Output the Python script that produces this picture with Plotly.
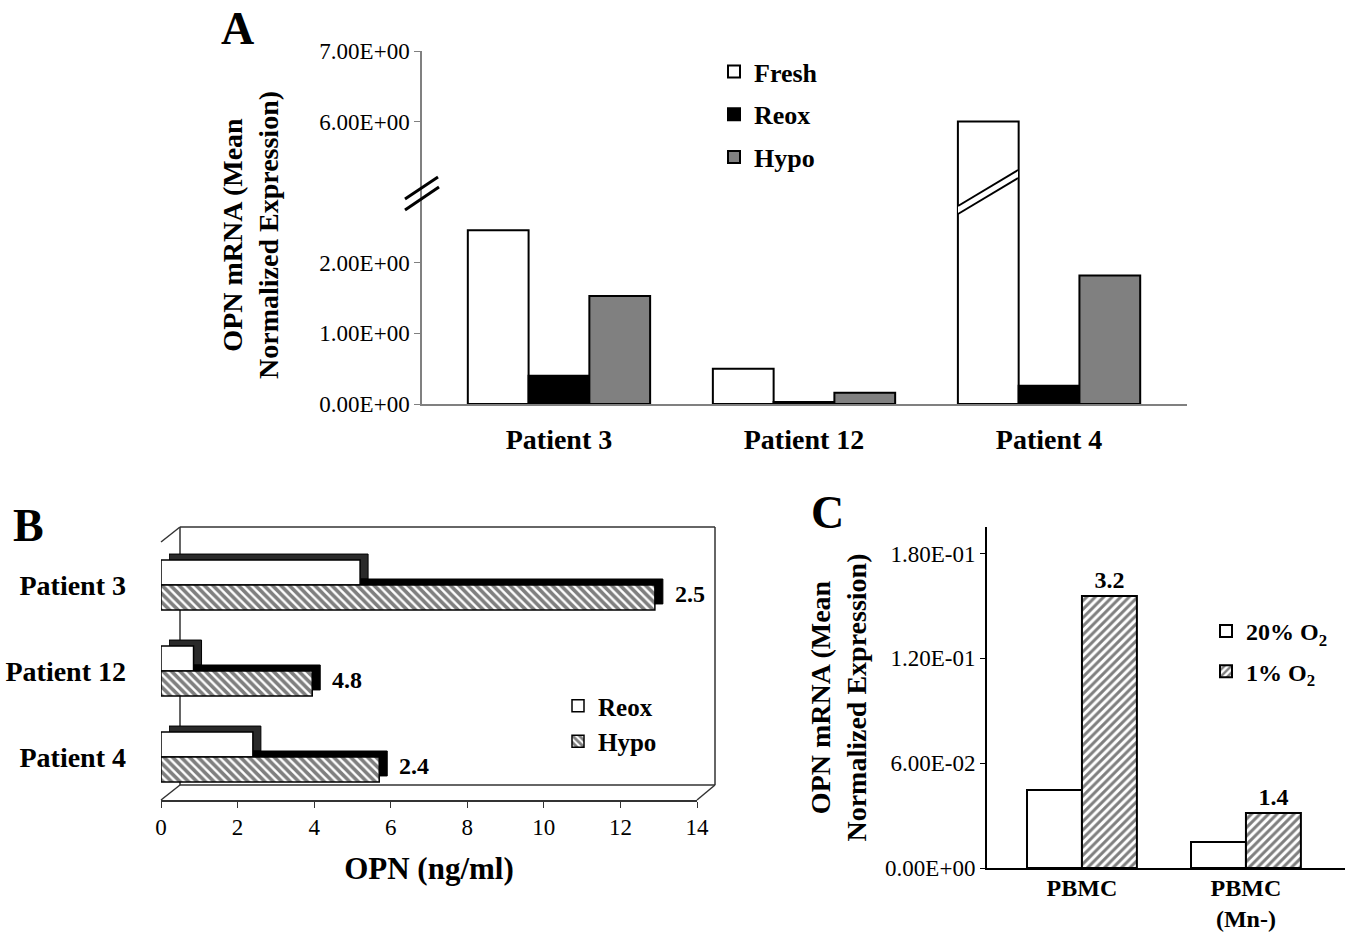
import plotly.graph_objects as go

W, H = 1350, 932
FONT = "Liberation Serif"


def px(x):
    return x / W


def py(y):
    return 1 - y / H


# ---------------- data ----------------
# Panel A (broken y axis)
a_patients = ["Patient 3", "Patient 12", "Patient 4"]
a_fresh = [2.46, 0.50, 6.00]
a_reox = [0.40, 0.03, 0.26]
a_hypo = [1.53, 0.16, 1.82]
a_ticks_low = [0, 1, 2]
a_ticks_high = [6, 7]

# Panel B (OPN protein, ng/ml)
b_patients = ["Patient 3", "Patient 12", "Patient 4"]
b_reox = [5.2, 0.85, 2.4]
b_hypo = [12.9, 3.95, 5.7]
b_ratio = ["2.5", "4.8", "2.4"]
b_ticks = [0, 2, 4, 6, 8, 10, 12, 14]

# Panel C (PBMC)
c_cells = ["PBMC", "PBMC<br>(Mn-)"]
c_o2_20 = [0.0447, 0.0149]
c_o2_1 = [0.1557, 0.0315]
c_ratio = ["3.2", "1.4"]
c_ticks = [0, 0.06, 0.12, 0.18]


def sci(v):
    return f"{v:.2E}"


fig = go.Figure()

# ---------------- Panel A ----------------
A_W = 0.248
a_series = [
    ("Fresh", a_fresh, "white", -0.372, "fa"),
    ("Reox", a_reox, "black", -0.124, "ra"),
    ("Hypo", a_hypo, "#808080", 0.124, "ha"),
]
for xa, ya, show in (("x", "y", True), ("x2", "y2", False)):
    for name, vals, col, off, grp in a_series:
        fig.add_trace(go.Bar(
            x=a_patients, y=vals, name=name, xaxis=xa, yaxis=ya,
            width=A_W, offset=off,
            marker=dict(color=col, line=dict(color="black", width=2)),
            showlegend=show, legend="legend", legendgroup=grp,
        ))

# ---------------- Panel B ----------------
B_W = 0.29
# depth (3-D) faces: same bars, shifted up/right, drawn in dark
for name, vals, off, col in (("Reox", b_reox, -B_W, "#2a2a2a"),
                             ("Hypo", b_hypo, 0.0, "#000000")):
    fig.add_trace(go.Bar(
        y=b_patients, x=vals, orientation="h", xaxis="x3", yaxis="y3",
        width=B_W, offset=off, showlegend=False, hoverinfo="skip",
        marker=dict(color=col, line=dict(color="black", width=1)),
    ))
fig.add_trace(go.Bar(
    y=b_patients, x=b_reox, orientation="h", name="Reox",
    xaxis="x4", yaxis="y4", width=B_W, offset=-B_W,
    marker=dict(color="white", line=dict(color="black", width=1.5)),
    legend="legend2",
))
fig.add_trace(go.Bar(
    y=b_patients, x=b_hypo, orientation="h", name="Hypo",
    xaxis="x4", yaxis="y4", width=B_W, offset=0.0,
    marker=dict(color="white", line=dict(color="black", width=1.5),
                pattern=dict(shape="\\", fgcolor="black", bgcolor="white",
                             size=6, solidity=0.6)),
    legend="legend2",
))

# ---------------- Panel C ----------------
C_W = 0.335
fig.add_trace(go.Bar(
    x=c_cells, y=c_o2_20, name="20% O<sub>2</sub>", xaxis="x5", yaxis="y5",
    width=C_W, offset=-C_W, legendgroup="c20",
    marker=dict(color="white", line=dict(color="black", width=2)),
    legend="legend3",
))
fig.add_trace(go.Bar(
    x=c_cells, y=c_o2_1, name="1% O<sub>2</sub>", xaxis="x5", yaxis="y5",
    width=C_W, offset=0.0, legendgroup="c1",
    text=c_ratio, textposition="outside", cliponaxis=False,
    textfont=dict(family=FONT, size=24, color="black", weight="bold"),
    marker=dict(color="white", line=dict(color="black", width=2),
                pattern=dict(shape="/", fgcolor="black", bgcolor="white",
                             size=6, solidity=0.5)),
    legend="legend3",
))

# ratio labels in panel B
annotations = []
for cat_i, (v, lab) in enumerate(zip(b_hypo, b_ratio)):
    annotations.append(dict(
        xref="x4", yref="y4", x=v, y=cat_i + B_W / 2, text=f"<b>{lab}</b>",
        showarrow=False, xanchor="left", yanchor="middle", xshift=18,
        yshift=3, font=dict(family=FONT, size=24, color="black"),
    ))

# panel letters
for letter, x, y in (("A", 238, 28), ("B", 28, 525), ("C", 828, 512)):
    annotations.append(dict(
        xref="paper", yref="paper", x=px(x), y=py(y), text=f"<b>{letter}</b>",
        showarrow=False, xanchor="center", yanchor="middle",
        font=dict(family=FONT, size=46, color="black"),
    ))

# panel A y title (spans both halves of the broken axis)
annotations.append(dict(
    xref="paper", yref="paper", x=px(251), y=py(235),
    text="<b>OPN mRNA (Mean<br>Normalized Expression)</b>", textangle=-90,
    showarrow=False, xanchor="center", yanchor="middle",
    font=dict(family=FONT, size=28, color="black"),
))


def seg(x0, y0, x1, y1, w=1.5, color="#333333", layer="above"):
    return dict(type="line", xref="paper", yref="paper", layer=layer,
                x0=px(x0), y0=py(y0), x1=px(x1), y1=py(y1),
                line=dict(color=color, width=w))


shapes = []
# axis-break marks on panel A
shapes.append(seg(405, 199, 438, 177, w=3, color="black"))
shapes.append(seg(405, 210, 439, 187, w=3, color="black"))
# break across Patient 4 "Fresh" bar
shapes.append(dict(type="path", xref="paper", yref="paper",
                   path=f"M {px(958)},{py(206)} L {px(1018)},{py(170)} "
                        f"L {px(1018)},{py(178)} L {px(958)},{py(214)} Z",
                   fillcolor="white", line=dict(width=0)))
shapes.append(seg(958, 206, 1018, 170, w=2, color="black"))
shapes.append(seg(958, 214, 1018, 178, w=2, color="black"))
# panel B 3-D frame (behind the bars)
for s in ((180, 527, 715, 527), (715, 527, 715, 785), (180, 527, 180, 785),
          (180, 785, 715, 785), (161, 542, 180, 527), (161, 800, 180, 785),
          (697, 800, 715, 785)):
    shapes.append(seg(*s, layer="below"))

tick_font = dict(family=FONT, size=23, color="black")
bold_tick = dict(family=FONT, size=28, color="black", weight="bold")

fig.update_layout(
    width=W, height=H, autosize=False,
    margin=dict(l=0, r=0, t=0, b=0, pad=0, autoexpand=False),
    paper_bgcolor="white", plot_bgcolor="rgba(0,0,0,0)",
    barmode="overlay",
    font=dict(family=FONT, color="black"),
    annotations=annotations, shapes=shapes,
    # ---- panel A axes
    xaxis=dict(domain=[px(422), px(1187)], range=[-0.559, 2.563], anchor="y",
               showline=True, linecolor="#808080", linewidth=1.5, ticks="",
               tickfont=bold_tick, ticklabelstandoff=10, showgrid=False,
               zeroline=False, automargin=False),
    yaxis=dict(domain=[py(404), py(192)], range=[0, 3.0], anchor="x",
               showline=True, linecolor="#808080", linewidth=1.5,
               ticks="outside", ticklen=6, tickcolor="#808080",
               tickvals=a_ticks_low, ticktext=[sci(v) for v in a_ticks_low],
               tickfont=tick_font, showgrid=False, zeroline=False,
               automargin=False),
    xaxis2=dict(domain=[px(422), px(1187)], matches="x", anchor="y2",
                visible=False),
    yaxis2=dict(domain=[py(192), py(51)], range=[5.0, 7.0], anchor="x2",
                showline=True, linecolor="#808080", linewidth=1.5,
                ticks="outside", ticklen=6, tickcolor="#808080",
                tickvals=a_ticks_high, ticktext=[sci(v) for v in a_ticks_high],
                tickfont=tick_font, showgrid=False, zeroline=False,
                automargin=False),
    # ---- panel B depth layer
    xaxis3=dict(domain=[px(169), px(705)], range=[0, 14], anchor="y3",
                visible=False),
    yaxis3=dict(domain=[py(794), py(536)], range=[2.5, -0.5], anchor="x3",
                visible=False, type="category"),
    # ---- panel B front layer
    xaxis4=dict(domain=[px(161), px(697)], range=[0, 14], anchor="y4",
                showline=True, linecolor="#333333", linewidth=1.5,
                ticks="outside", ticklen=6, tickcolor="#333333",
                tickvals=b_ticks, tickfont=tick_font, showgrid=False,
                zeroline=False, automargin=False,
                title=dict(text="<b>OPN (ng/ml)</b>", standoff=18,
                           font=dict(family=FONT, size=31, color="black"))),
    yaxis4=dict(domain=[py(800), py(542)], range=[2.5, -0.5], anchor="x4",
                type="category", showline=False, ticks="",
                tickfont=bold_tick, ticklabelstandoff=34, showgrid=False,
                zeroline=False, automargin=False),
    # ---- panel C
    xaxis5=dict(domain=[px(987), px(1345)], range=[-0.579, 1.604],
                anchor="y5", showline=True, linecolor="black", linewidth=2,
                ticks="", tickfont=dict(family=FONT, size=24, color="black",
                                        weight="bold"),
                ticklabelstandoff=-3,
                showgrid=False, zeroline=False, automargin=False),
    yaxis5=dict(domain=[py(868), py(527)], range=[0, 0.1952], anchor="x5",
                showline=True, linecolor="black", linewidth=2,
                ticks="outside", ticklen=5, tickcolor="black",
                tickvals=c_ticks, ticktext=[sci(v) for v in c_ticks],
                tickfont=tick_font, showgrid=False, zeroline=False,
                automargin=False,
                title=dict(text="<b>OPN mRNA (Mean<br>Normalized Expression)</b>",
                           standoff=10,
                           font=dict(family=FONT, size=28, color="black"))),
    legend=dict(x=px(714), y=py(48), xanchor="left", yanchor="top",
                font=dict(family=FONT, size=26, color="black", weight="bold"),
                tracegroupgap=6, bgcolor="rgba(0,0,0,0)"),
    legend2=dict(x=px(558), y=py(683), xanchor="left", yanchor="top",
                 font=dict(family=FONT, size=25, color="black", weight="bold"),
                 bgcolor="rgba(0,0,0,0)"),
    legend3=dict(x=px(1206), y=py(609), xanchor="left", yanchor="top",
                 font=dict(family=FONT, size=24, color="black", weight="bold"),
                 tracegroupgap=6, bgcolor="rgba(0,0,0,0)"),
)

fig.write_html("out.html",
               config={"displayModeBar": False, "responsive": False},
               post_script="document.body.style.margin='0';"
                           "document.body.style.overflow='hidden';")
